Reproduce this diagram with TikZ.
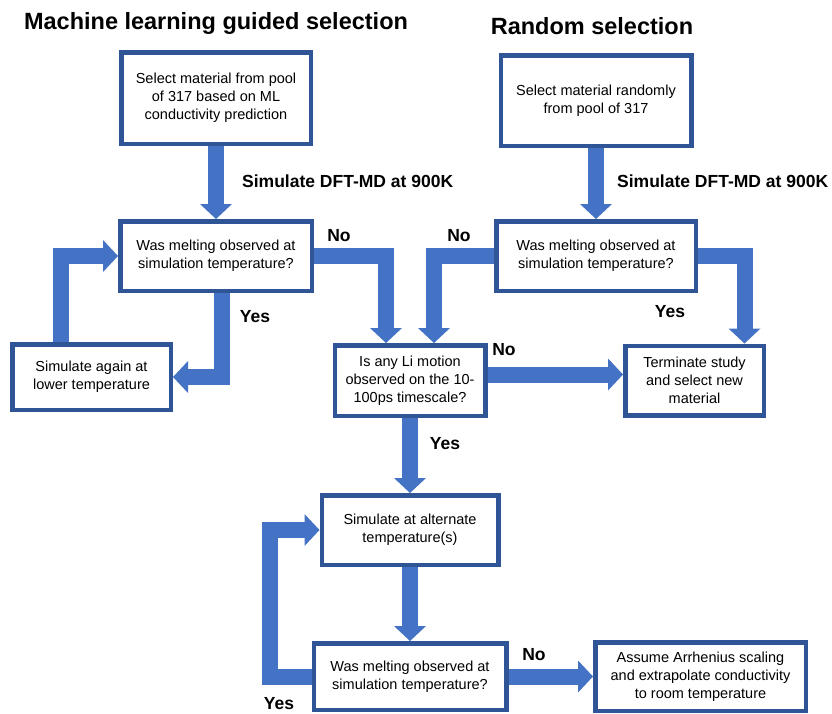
\documentclass[tikz,border=0pt]{standalone}
\usepackage{fontspec}
\setmainfont{Liberation Sans}
\usepackage{xcolor}
\usetikzlibrary{arrows.meta,positioning,backgrounds}
\definecolor{boxblue}{HTML}{2F5597}
\definecolor{arrowblue}{HTML}{4472C4}

\begin{document}
\begin{tikzpicture}[
      x=1pt, y=-1pt,
      box/.style={draw=boxblue, line width=4.5pt, fill=white, align=center,
                  font=\fontsize{14.5}{18}\selectfont, inner sep=2pt},
      arr/.style={draw=arrowblue, line width=16pt, line join=miter,
                  -{Triangle[width=32pt, length=15pt, line width=0pt]}},
      lbl/.style={font=\fontsize{17.5}{20}\selectfont\bfseries, inner sep=0pt},
      ttl/.style={font=\fontsize{23.5}{28}\selectfont\bfseries, inner sep=0pt}
    ]
    \useasboundingbox (0,0) rectangle (832,713);

    % Machine learning column
    \node[box, minimum width=189.5pt, minimum height=91.5pt] (sel1) at (216,98)
      {Select material from pool\\of 317 based on ML\\conductivity prediction};
    \node[box, minimum width=191.5pt, minimum height=69.5pt] (melt1) at (216,256)
      {Was melting observed at\\simulation temperature?};
    \node[box, minimum width=158.5pt, minimum height=65.5pt] (lower) at (91.5,377)
      {Simulate again at\\lower temperature};
    \node[ttl, above=15pt of sel1] {Machine learning guided selection};

    % Random column
    \node[box, minimum width=190.5pt, minimum height=90.5pt] (sel2) at (596,100.5)
      {Select material randomly\\from pool of 317};
    \node[box, minimum width=199.5pt, minimum height=69.5pt] (melt2) at (596,256)
      {Was melting observed at\\simulation temperature?};
    \node[box, minimum width=138.5pt, minimum height=69.5pt] (term) at (694.5,380.5)
      {Terminate study\\and select new\\material};
    \node[ttl, above=18pt of sel2, xshift=-4pt] {Random selection};

    % Shared part
    \node[box, minimum width=150.5pt, minimum height=70.5pt] (limo) at (410,380.5)
      {Is any Li motion\\observed on the 10-\\100ps timescale?};
    \node[box, minimum width=176.5pt, minimum height=69.5pt] (alt) at (410,530)
      {Simulate at alternate\\temperature(s)};
    \node[box, minimum width=192.5pt, minimum height=66.5pt] (melt3) at (410,676.5)
      {Was melting observed at\\simulation temperature?};
    \node[box, minimum width=210.5pt, minimum height=68.5pt] (arrh) at (700.5,676.5)
      {Assume Arrhenius scaling\\and extrapolate conductivity\\to room temperature};

    % Labels
    \node[lbl, anchor=west] (dft1) at (242,181) {Simulate DFT-MD at 900K};
    \node[lbl, anchor=west] (dft2) at (617,181) {Simulate DFT-MD at 900K};
    \node[lbl] (no1) at (339,236) {No};
    \node[lbl] (no2) at (459,236) {No};
    \node[lbl] (no3) at (504,350) {No};
    \node[lbl] (no4) at (534,655) {No};
    \node[lbl] (yes1) at (255,317) {Yes};
    \node[lbl] (yes2) at (670,312) {Yes};
    \node[lbl] (yes3) at (445,444) {Yes};
    \node[lbl] (yes4) at (279,704) {Yes};

    % Arrows
    \begin{scope}[on background layer]
      \draw[arr] (sel1) -- (melt1);
      \draw[arr] (sel2) -- (melt2);
      \draw[arr] ([xshift=6pt]melt1.south) |- (lower);
      \draw[arr] ([xshift=-31pt]lower.north) |- (melt1);
      \draw[arr] (melt1) -| ([xshift=-24pt]limo.north);
      \draw[arr] (melt2) -| ([xshift=24pt]limo.north);
      \draw[arr] (melt2) -| ([xshift=50pt]term.north);
      \draw[arr] ([yshift=6pt]limo.east) -- ([yshift=6pt]term.west);
      \draw[arr] (limo) -- (alt);
      \draw[arr] (alt) -- (melt3);
      \draw[arr] (melt3) -- (arrh);
      \draw[arr] (melt3) -| ([xshift=-50pt]alt.west) -- (alt);
    \end{scope}
  \end{tikzpicture}
\end{document}
